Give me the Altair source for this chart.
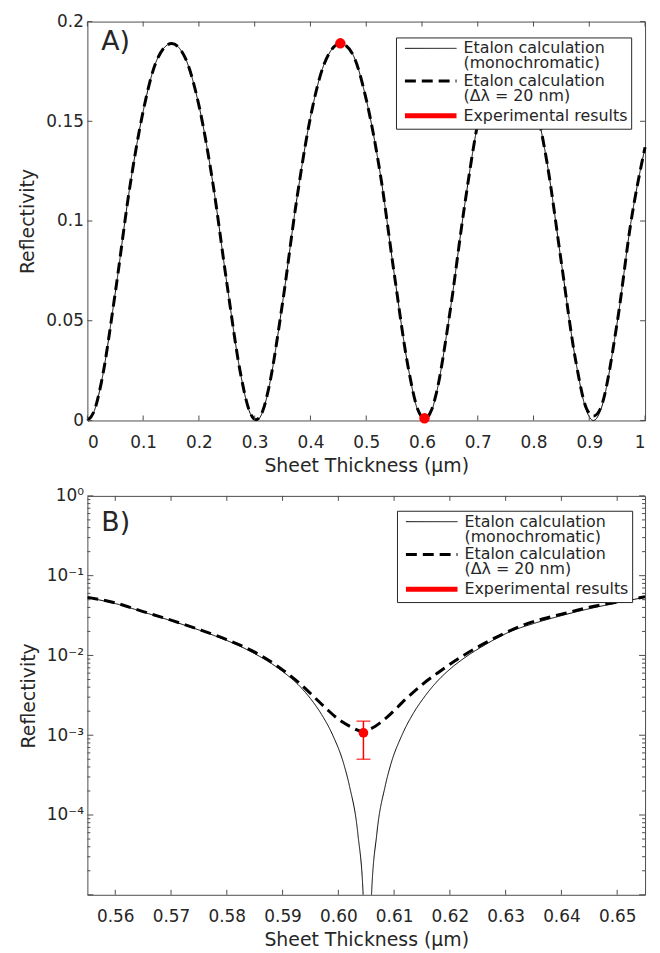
import altair as alt
import pandas as pd

FONT = "DejaVu Sans"
TXT = "#262626"
AXC = "#4d4d4d"
W, H = 562, 402

# ---------------- legend / series ----------------
series_names = ["Etalon calculation|(monochromatic)",
                "Etalon calculation|(Δλ = 20 nm)",
                "Experimental results"]
series_colors = ["#000000", "#000000", "#ff0000"]
series_dash = [[1, 0], [11, 6], [1, 0]]
series_width = [1, 5]

# ---------------- panel A (linear) ----------------
a_x = [0, 0.0125, 0.025, 0.05, 0.075, 0.1, 0.125, 0.151, 0.175, 0.2, 0.225, 0.25,
       0.275, 0.29, 0.3025, 0.315, 0.325, 0.35, 0.375, 0.4, 0.425, 0.454, 0.475,
       0.5, 0.525, 0.55, 0.575, 0.5925, 0.605, 0.6175, 0.625, 0.65, 0.675, 0.7,
       0.725, 0.756, 0.775, 0.8, 0.825, 0.85, 0.875, 0.895, 0.9075, 0.92, 0.95,
       0.975, 1.0]
a_mono = [0, 0.0049, 0.019, 0.064, 0.115, 0.155, 0.181, 0.189, 0.182, 0.158, 0.119,
          0.069, 0.023, 0.0049, 0.0, 0.0049, 0.0158, 0.059, 0.110, 0.152, 0.179,
          0.189, 0.184, 0.161, 0.124, 0.074, 0.027, 0.0049, 0.0, 0.0049, 0.0125,
          0.054, 0.105, 0.149, 0.177, 0.189, 0.186, 0.163, 0.128, 0.079, 0.031,
          0.0049, 0.0, 0.0049, 0.049, 0.100, 0.137]
a_broad = [0, 0.0049, 0.019, 0.064, 0.115, 0.155, 0.181, 0.189, 0.182, 0.158, 0.119,
           0.069, 0.023, 0.0052, 0.0004, 0.0052, 0.0160, 0.059, 0.110, 0.152, 0.179,
           0.189, 0.184, 0.161, 0.124, 0.074, 0.027, 0.0055, 0.0011, 0.0055, 0.0128,
           0.054, 0.105, 0.149, 0.177, 0.189, 0.186, 0.163, 0.128, 0.079, 0.031,
           0.0060, 0.0022, 0.0060, 0.049, 0.100, 0.137]
a_exp_x = [0.4536, 0.6045]
a_exp_y = [0.1891, 0.0011]
a_xticks = [0, 0.1, 0.2, 0.3, 0.4, 0.5, 0.6, 0.7, 0.8, 0.9, 1.0]
a_yticks = [0, 0.05, 0.1, 0.15, 0.2]

# ---------------- panel B (log) ----------------
b_mono_x = [0.555, 0.560, 0.5659, 0.5718, 0.5777, 0.5837, 0.590, 0.593, 0.595, 0.597,
            0.599, 0.601, 0.602, 0.6035, 0.6045, 0.6052, 0.6059, 0.6069, 0.6084,
            0.6094, 0.6114, 0.6134, 0.6154, 0.6174, 0.6204, 0.6226, 0.626, 0.6309,
            0.635, 0.6398, 0.645, 0.650, 0.655]
b_mono_y = [0.0531, 0.0447, 0.0335, 0.0248, 0.0178, 0.01175, 0.0063, 0.00417, 0.00288,
            0.00182, 0.00100, 0.00043, 0.00023, 5.8e-5, 8.3e-6, 1e-7, 8.3e-6, 5.8e-5,
            0.00023, 0.00043, 0.00100, 0.00186, 0.0030, 0.00447, 0.0071, 0.0093,
            0.0132, 0.0200, 0.0251, 0.0313, 0.0385, 0.0457, 0.0537]
b_broad_x = [0.555, 0.560, 0.565, 0.570, 0.575, 0.580, 0.585, 0.590, 0.593, 0.5955,
             0.598, 0.6002, 0.602, 0.6043, 0.6065, 0.6088, 0.612, 0.615, 0.618,
             0.622, 0.628, 0.634, 0.640, 0.645, 0.650, 0.655]
b_broad_y = [0.0535, 0.0456, 0.0355, 0.0277, 0.0212, 0.0158, 0.0110, 0.0066, 0.0045,
             0.0031, 0.0021, 0.00155, 0.0013, 0.00112, 0.00128, 0.0017, 0.0028,
             0.0043, 0.00617, 0.00955, 0.0165, 0.0252, 0.0329, 0.0402, 0.0468, 0.0545]
b_exp_x = [0.6045]
b_exp_y = [0.00107]
b_exp_lo = [0.0005]
b_exp_hi = [0.0015]
b_xticks = [0.56, 0.57, 0.58, 0.59, 0.60, 0.61, 0.62, 0.63, 0.64, 0.65]
b_yticks_major = [1e-5, 1e-4, 1e-3, 1e-2, 1e-1, 1.0]
b_ytick_labels = ["", "10⁻⁴", "10⁻³", "10⁻²", "10⁻¹", "10⁰"]
b_yticks_minor = [m * 10.0 ** k for k in range(-5, 0) for m in range(2, 10)]


# ---------------- helpers ----------------
def legend(lx, ly):
    return alt.Legend(title=None, orient="none", legendX=lx, legendY=ly,
                      symbolType="M-6,0H6", symbolSize=75,
                      labelExpr="split(datum.label, '|')", labelLimit=400,
                      labelFont=FONT, labelFontSize=16, labelColor=TXT,
                      strokeColor=TXT, fillColor="white", padding=3,
                      labelOffset=25, symbolOffset=24, rowPadding=2, cornerRadius=0)


def edge_ticks(values, scale, channel, length):
    """Inward tick marks on both opposite edges of the frame, placed by the scale."""
    df = pd.DataFrame({channel: values})
    base = alt.Chart(df).mark_rule(color=AXC, strokeWidth=1)
    if channel == "x":
        enc = alt.X("x:Q", scale=scale)
        return [base.encode(x=enc, y=alt.value(H), y2=alt.value(H - length)),
                base.encode(x=enc, y=alt.value(0), y2=alt.value(length))]
    enc = alt.Y("y:Q", scale=scale)
    return [base.encode(y=enc, x=alt.value(0), x2=alt.value(length)),
            base.encode(y=enc, x=alt.value(W), x2=alt.value(W - length))]


def series_enc(leg):
    return dict(
        color=alt.Color("series:N", scale=alt.Scale(domain=series_names, range=series_colors), legend=leg),
        strokeDash=alt.StrokeDash("series:N", scale=alt.Scale(domain=series_names, range=series_dash), legend=leg),
        strokeWidth=alt.StrokeWidth("series:N", scale=alt.Scale(domain=series_names, range=series_width), legend=leg),
    )


# ---------------- panel A ----------------
dfA = pd.DataFrame({
    "x": a_x + a_x,
    "y": a_mono + a_broad,
    "series": [series_names[0]] * len(a_x) + [series_names[1]] * len(a_x),
})
dfAexp = pd.DataFrame({"x": a_exp_x, "y": a_exp_y})
xsA = alt.Scale(domain=[0, 1], nice=False, zero=False)
ysA = alt.Scale(domain=[0, 0.2], nice=False, zero=False)

A1 = alt.Chart(dfA).mark_line(interpolate="monotone").encode(
    x=alt.X("x:Q", scale=xsA, axis=alt.Axis(values=a_xticks, format="~g", ticks=False, tickSize=0,
                                            domain=False, grid=False, labelPadding=14,
                                            title="Sheet Thickness (µm)", titlePadding=6)),
    y=alt.Y("y:Q", scale=ysA, axis=alt.Axis(values=a_yticks, format="~g", ticks=False, tickSize=0,
                                            domain=False, grid=False, labelPadding=4,
                                            title="Reflectivity", titlePadding=8)),
    **series_enc(legend(311, 16)),
)
A2 = alt.Chart(dfAexp).mark_circle(size=110, color="#ff0000", opacity=1).encode(
    x=alt.X("x:Q", scale=xsA),
    y=alt.Y("y:Q", scale=ysA),
)
panelA = alt.layer(
    A1, *edge_ticks(a_xticks, xsA, "x", 5), *edge_ticks(a_yticks, ysA, "y", 5), A2
).properties(
    width=W, height=H,
    title=alt.TitleParams("A)", anchor="start", frame="group", dx=14, offset=-44, baseline="top"),
)

# ---------------- panel B ----------------
dfB = pd.DataFrame({
    "x": b_mono_x + b_broad_x,
    "y": b_mono_y + b_broad_y,
    "series": [series_names[0]] * len(b_mono_x) + [series_names[1]] * len(b_broad_x),
})
dfBexp = pd.DataFrame({"x": b_exp_x, "y": b_exp_y, "y_lo": b_exp_lo, "y_hi": b_exp_hi})
dfBcap = pd.DataFrame({"x": b_exp_x + b_exp_x, "y": b_exp_lo + b_exp_hi})
xsB = alt.Scale(domain=[0.555, 0.655], nice=False, zero=False)
ysB = alt.Scale(type="log", domain=[1e-5, 1], nice=False)

ylab_expr = ""
for v, lab in sorted(zip(b_yticks_major, b_ytick_labels), reverse=True):
    ylab_expr += f"datum.value > {v * 0.5} ? '{lab}' : "
ylab_expr += "''"

B1 = alt.Chart(dfB).mark_line(interpolate="monotone", clip=True).encode(
    x=alt.X("x:Q", scale=xsB, axis=alt.Axis(values=b_xticks, format=".2f", ticks=False, tickSize=0,
                                            domain=False, grid=False, labelPadding=14,
                                            title="Sheet Thickness (µm)", titlePadding=6)),
    y=alt.Y("y:Q", scale=ysB, axis=alt.Axis(values=b_yticks_major, labelExpr=ylab_expr, ticks=False,
                                            tickSize=0, domain=False, grid=False, labelPadding=4,
                                            title="Reflectivity", titlePadding=8)),
    **series_enc(legend(312, 15)),
)
B2 = alt.Chart(dfBexp).mark_rule(color="#ff0000", strokeWidth=1.5).encode(
    x=alt.X("x:Q", scale=xsB),
    y=alt.Y("y_lo:Q", scale=ysB),
    y2="y_hi:Q",
)
B3 = alt.Chart(dfBcap).mark_tick(color="#ff0000", thickness=1.5, size=14, orient="horizontal").encode(
    x=alt.X("x:Q", scale=xsB),
    y=alt.Y("y:Q", scale=ysB),
)
B4 = alt.Chart(dfBexp).mark_circle(size=95, color="#ff0000", opacity=1).encode(
    x=alt.X("x:Q", scale=xsB),
    y=alt.Y("y:Q", scale=ysB),
)
panelB = alt.layer(
    B1,
    *edge_ticks(b_xticks, xsB, "x", 5),
    *edge_ticks(b_yticks_major, ysB, "y", 6),
    *edge_ticks(b_yticks_minor, ysB, "y", 3),
    B2, B3, B4,
).properties(
    width=W, height=H,
    title=alt.TitleParams("B)", anchor="start", frame="group", dx=14, offset=-50, baseline="top"),
)

chart = alt.vconcat(panelA, panelB, spacing=10).resolve_scale(
    color="independent", strokeDash="independent", strokeWidth="independent"
).resolve_legend(color="independent", strokeDash="independent", strokeWidth="independent").properties(
    padding={"left": 10, "top": 0, "right": 0, "bottom": 0}
).configure(
    style={"guide-label": {"lineHeight": 15}}
).configure_axis(
    labelFont=FONT, labelFontSize=17, labelColor=TXT,
    titleFont=FONT, titleFontSize=19, titleFontWeight="normal", titleColor=TXT,
).configure_view(stroke=AXC, strokeWidth=1).configure_title(
    font=FONT, fontSize=27, fontWeight="normal", color=TXT, anchor="start"
)

chart.save("out.html", embed_options={"renderer": "svg", "actions": False})
